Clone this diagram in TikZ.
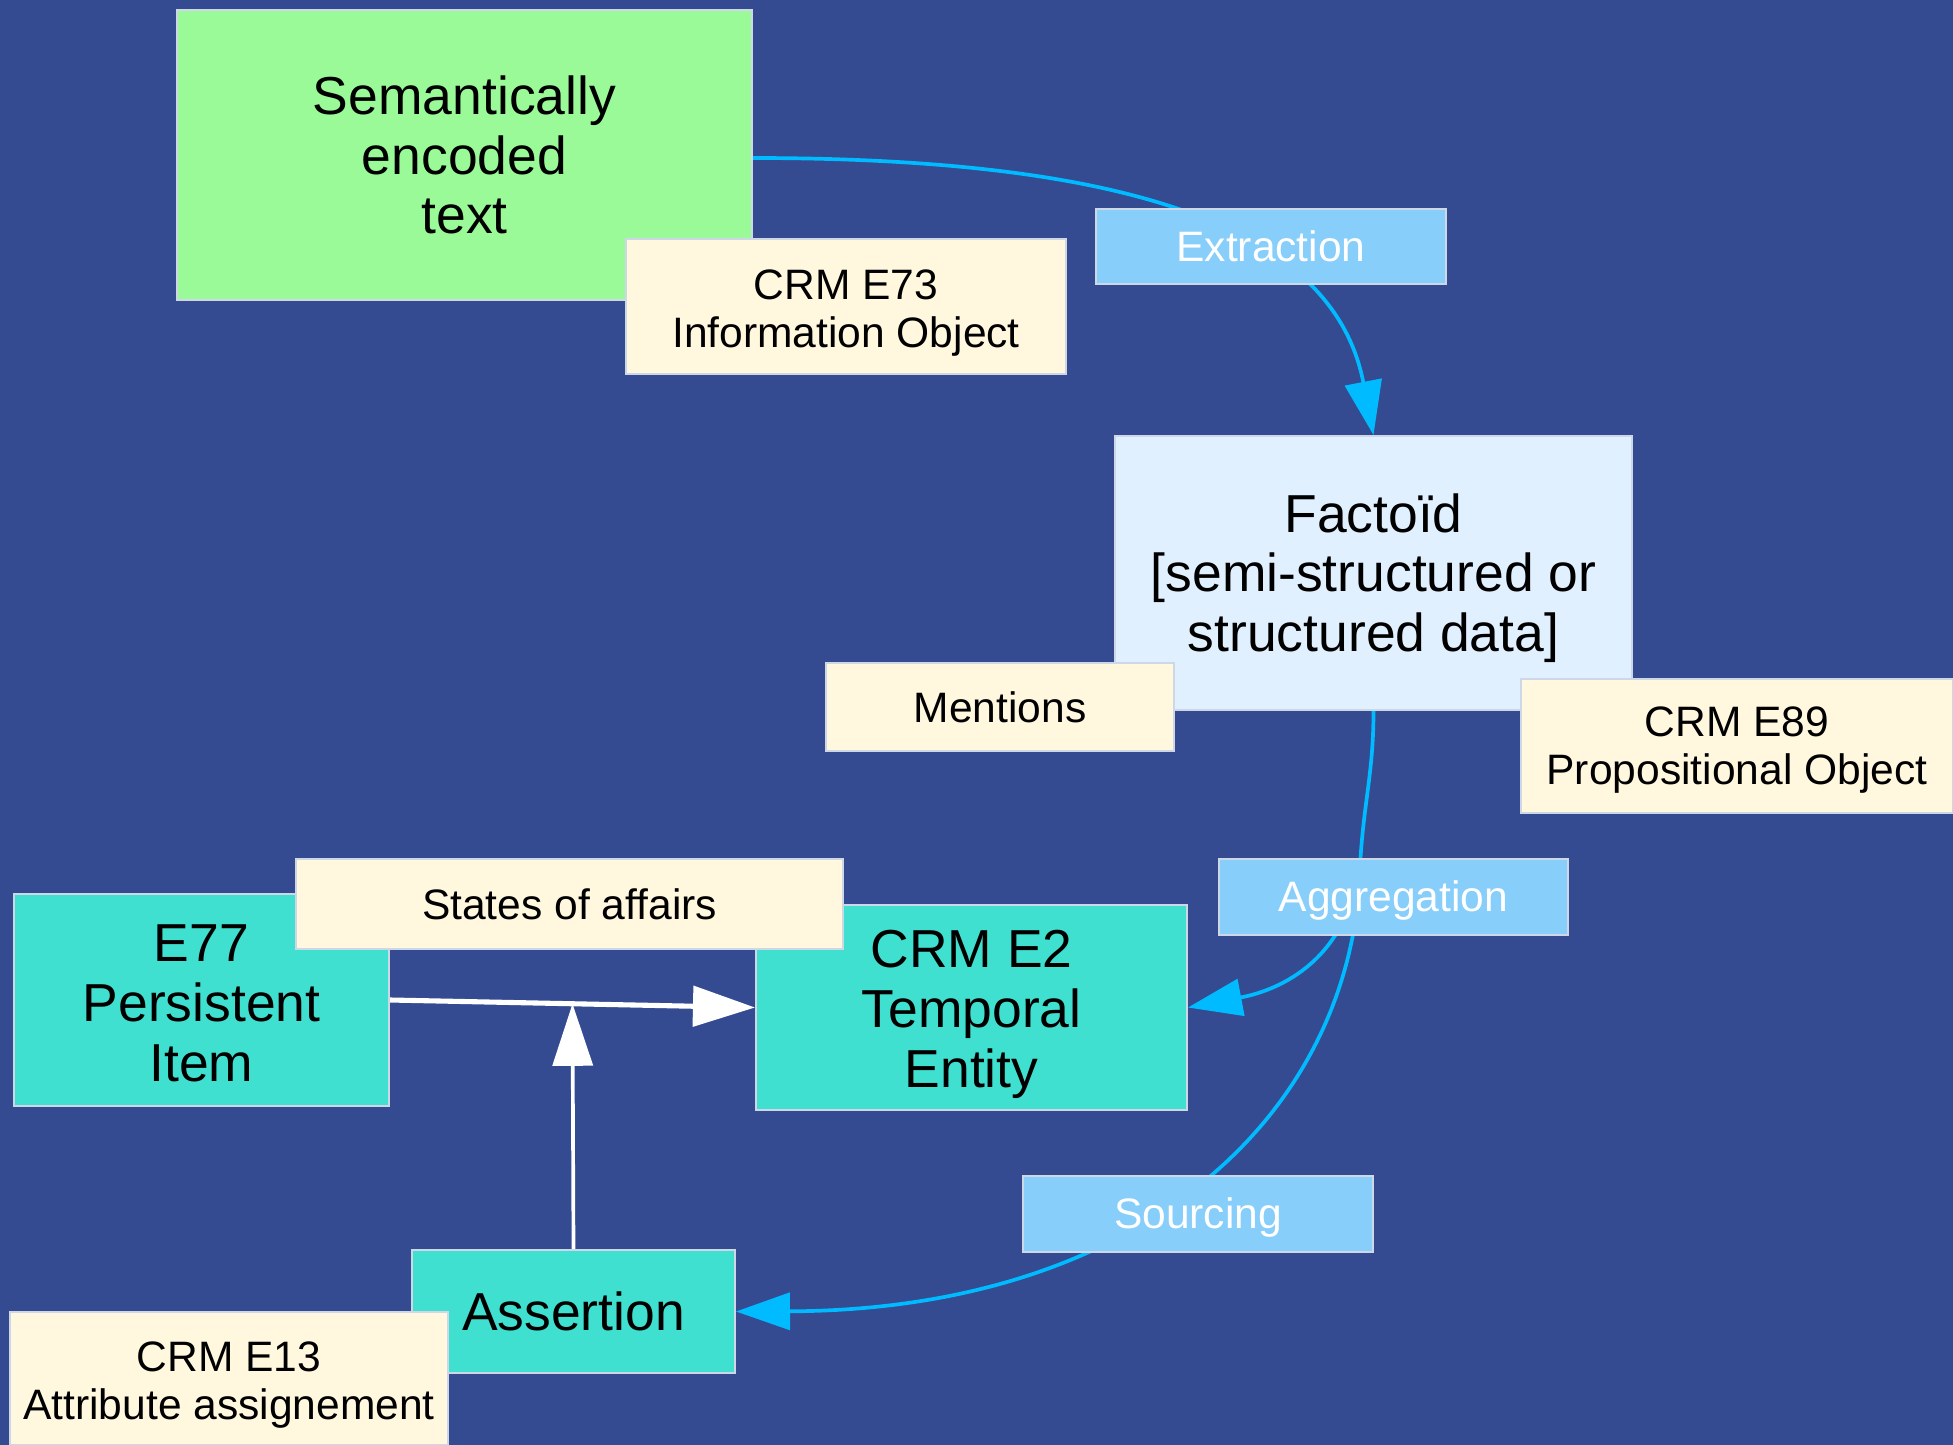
\documentclass[tikz,border=0pt]{standalone}
\usepackage{fontspec}
\setmainfont{Liberation Sans}
\usetikzlibrary{arrows.meta,calc}
\definecolor{bgblue}{RGB}{52,75,145}
\definecolor{pgreen}{RGB}{154,250,152}
\definecolor{cornsilk}{RGB}{255,248,222}
\definecolor{lsky}{RGB}{135,206,250}
\definecolor{factbg}{RGB}{225,240,254}
\definecolor{turq}{RGB}{64,224,208}
\definecolor{dsb}{RGB}{0,187,255}
\definecolor{boxedge}{RGB}{205,215,230}
\newcommand\fsBig{\fontsize{15.2}{17}\selectfont}
\newcommand\fsSmall{\fontsize{12.1}{13.6}\selectfont}
\newcommand\lineup[1]{\rule{0pt}{#1}}
\pgfdeclarelayer{bgl}
\pgfdeclarelayer{conn}
\pgfsetlayers{bgl,conn,main}
\tikzset{
  mainbox/.style={draw=boxedge, line width=0.5pt, inner sep=0pt, align=center, font=\fsBig, text=black},
  crmlabel/.style={draw=boxedge, line width=0.5pt, fill=cornsilk, inner sep=0pt, align=center, font=\fsSmall, text=black},
  proclabel/.style={draw=boxedge, line width=0.5pt, fill=lsky, inner sep=0pt, align=center, font=\fsSmall, text=white},
  flow/.style={draw=dsb, line width=1.05pt, -{Triangle[length=0.54cm,width=0.37cm]}},
  flowline/.style={draw=dsb, line width=1.05pt},
  whitearrow/.style={draw=white, -{Triangle[length=0.62cm,width=0.4cm]}}
}
\begin{document}
\begin{tikzpicture}[x=0.01cm,y=-0.01cm]
\useasboundingbox (0,0) rectangle (1953,1445);
\begin{pgfonlayer}{bgl}
  \fill[bgblue] (0,0) rectangle (1953,1445);
\end{pgfonlayer}

% main boxes
\node[mainbox, fill=pgreen, minimum width=5.75cm, minimum height=2.9cm] (sem) at (464.5,155) {Semantically\\encoded\\text};
\node[mainbox, fill=factbg, minimum width=5.17cm, minimum height=2.74cm] (fact) at (1373.5,573) {\lineup{13.9pt}Factoïd\\{}[semi-structured or\\structured data]};
\node[mainbox, fill=turq, minimum width=3.75cm, minimum height=2.12cm] (e77) at (201.5,1000) {\lineup{12.5pt}E77\\Persistent\\Item};
\node[mainbox, fill=turq, minimum width=4.31cm, minimum height=2.05cm] (e2) at (971.5,1007.5) {\lineup{14.6pt}CRM E2\\Temporal\\Entity};
\node[mainbox, fill=turq, minimum width=3.23cm, minimum height=1.23cm] (assert) at (573.5,1311.5) {Assertion};

% labels
\node[crmlabel, minimum width=4.4cm, minimum height=1.35cm] (e73) at (846,306.5) {\lineup{12.2pt}CRM E73\\Information Object};
\node[crmlabel, minimum width=3.48cm, minimum height=0.88cm] (mentions) at (1000,707) {Mentions};
\node[crmlabel, minimum width=4.32cm, minimum height=1.34cm] (e89) at (1737,746) {\lineup{10.8pt}CRM E89\\Propositional Object};
\node[crmlabel, minimum width=5.47cm, minimum height=0.9cm] (soa) at (569.5,904) {States of affairs};
\node[crmlabel, minimum width=4.38cm, minimum height=1.33cm] (e13) at (229,1378.5) {\lineup{12.2pt}CRM E13\\Attribute assignement};

\node[proclabel, minimum width=3.5cm, minimum height=0.75cm] (extr) at (1271,246.5) {Extraction};
\node[proclabel, minimum width=3.49cm, minimum height=0.76cm] (agg) at (1393.5,897) {\lineup{10.8pt}Aggregation};
\node[proclabel, minimum width=3.5cm, minimum height=0.76cm] (src) at (1198,1214) {\lineup{10.8pt}Sourcing};

\coordinate (semOut) at ($(sem.east)+(0,3)$);
\coordinate (aggIn) at ($(agg.north)+(-33,0)$);
\coordinate (soaMid) at ($(e77.east)!0.5!(e2.west)$);

\begin{pgfonlayer}{conn}
  \draw[flow] (semOut) .. controls (1150,158) and (1335,236) .. (fact.north);
  \draw[flowline] (fact.south) .. controls +(0,60) and +(4,-60) .. (aggIn);
  \draw[flow] (aggIn) .. controls (1350,960) and (1280,990) .. (e2.east);
  \draw[flow] (aggIn) .. controls (1358,1106) and (1150,1310) .. (assert.east);
  \draw[whitearrow, line width=1.45pt] (e77.east) -- (e2.west);
  \draw[whitearrow, line width=1.05pt] (assert.north) -- (soaMid);
\end{pgfonlayer}
\end{tikzpicture}
\end{document}
